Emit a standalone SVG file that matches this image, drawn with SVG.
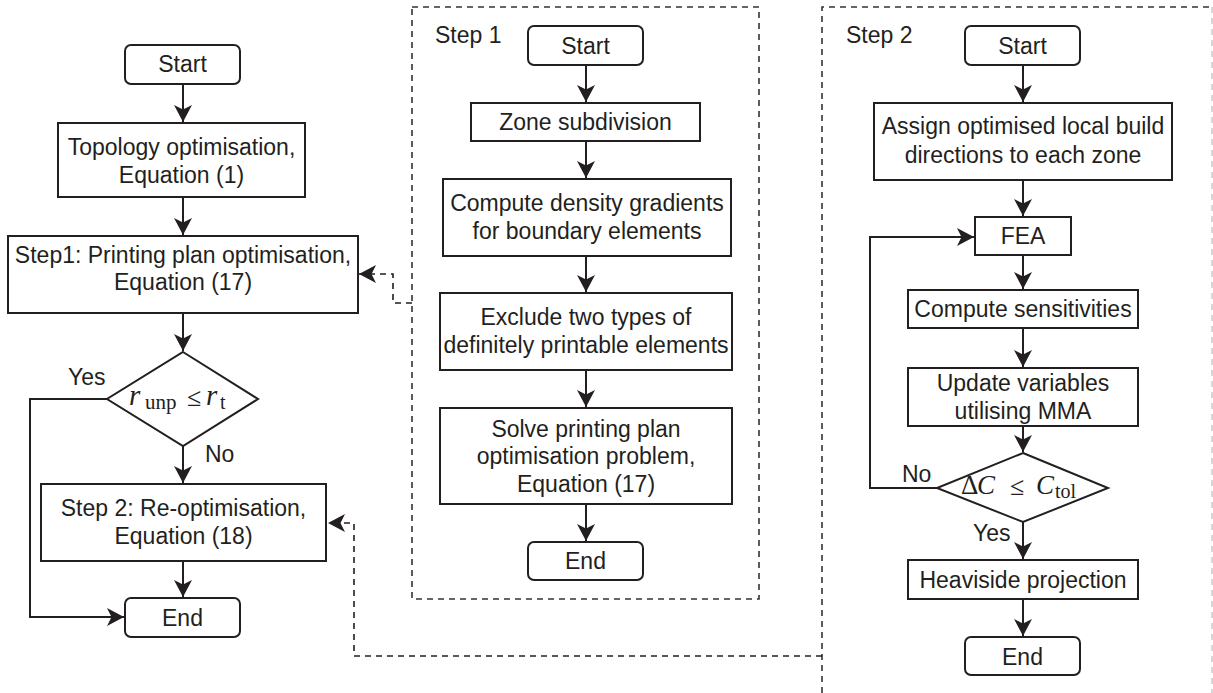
<svg xmlns="http://www.w3.org/2000/svg" width="1213" height="693" viewBox="0 0 1213 693">
<defs>
<style>
.box{fill:#fff;stroke:#231f20;stroke-width:2}
.t{font-family:"Liberation Sans",Arial,sans-serif;font-size:23px;fill:#231f20;text-anchor:middle}
.lbl{font-family:"Liberation Sans",Arial,sans-serif;font-size:23px;fill:#231f20}
.m{font-family:"Liberation Serif","Times New Roman",serif;fill:#231f20}
.ln{fill:none;stroke:#231f20;stroke-width:2}
.dash{fill:none;stroke:#231f20;stroke-width:1.6;stroke-dasharray:6 5}
.frame{fill:none;stroke:#333;stroke-width:1.6;stroke-dasharray:6 5}
</style>
<marker id="ah" markerUnits="userSpaceOnUse" markerWidth="17" markerHeight="18" viewBox="0 0 17 18" refX="17" refY="9" orient="auto">
<path d="M0,0 L17,9 L0,18 L4.5,9 Z" fill="#231f20"/>
</marker>
</defs>

<g id="frames">
<rect id="frame-step1" class="frame" x="412" y="7" width="347" height="592"/>
<path id="frame-step2" class="frame" d="M822,693 V7 H1212"/>
<path class="frame" d="M1212,7 V693" style="stroke:#ccc"/>
</g>

<g id="connectors">
<path class="ln" d="M183,84 V122" marker-end="url(#ah)"/>
<path class="ln" d="M183,197 V235" marker-end="url(#ah)"/>
<path class="ln" d="M183,313 V351" marker-end="url(#ah)"/>
<path class="ln" d="M183,446 V483" marker-end="url(#ah)"/>
<path class="ln" d="M183,561 V597" marker-end="url(#ah)"/>
<path class="ln" d="M107,399 H30 V617 H124" marker-end="url(#ah)"/>
<path class="dash" d="M412,303 H393 V274 H359" marker-end="url(#ah)"/>
<path class="dash" d="M822,656 H354 V523 H328" marker-end="url(#ah)"/>
<path class="ln" d="M586,65 V102" marker-end="url(#ah)"/>
<path class="ln" d="M586,141 V178" marker-end="url(#ah)"/>
<path class="ln" d="M586,256 V292" marker-end="url(#ah)"/>
<path class="ln" d="M586,370 V407" marker-end="url(#ah)"/>
<path class="ln" d="M586,504 V541" marker-end="url(#ah)"/>
<path class="ln" d="M1023,65 V102" marker-end="url(#ah)"/>
<path class="ln" d="M1023,180 V216" marker-end="url(#ah)"/>
<path class="ln" d="M1023,255 V289" marker-end="url(#ah)"/>
<path class="ln" d="M1023,328 V367" marker-end="url(#ah)"/>
<path class="ln" d="M1023,426 V452" marker-end="url(#ah)"/>
<path class="ln" d="M1023,522 V559" marker-end="url(#ah)"/>
<path class="ln" d="M1023,599 V636" marker-end="url(#ah)"/>
<path class="ln" d="M937,488 H870 V237 H974" marker-end="url(#ah)"/>
<text class="lbl" x="68" y="385">Yes</text>
<text class="lbl" x="205" y="462">No</text>
<text class="lbl" x="902" y="482">No</text>
<text class="lbl" x="973" y="541">Yes</text>
</g>

<g id="main-start"><rect class="box" x="125" y="45" width="115" height="39" rx="6"/><text class="t" x="182.5" y="72">Start</text></g>
<g id="main-topo"><rect class="box" x="58" y="123" width="247" height="74"/><text class="t" x="181.5" y="155">Topology optimisation,</text><text class="t" x="181.5" y="183">Equation (1)</text></g>
<g id="main-step1"><rect class="box" x="8" y="236" width="350" height="77"/><text class="t" x="183" y="263">Step1: Printing plan optimisation,</text><text class="t" x="183" y="290">Equation (17)</text></g>
<g id="main-decision"><polygon class="box" points="183,352 258,399 183,446 107,399"/>
<text class="m" y="405"><tspan x="129" font-style="italic" font-size="29">r</tspan><tspan x="145" y="409" font-size="21">unp</tspan><tspan x="187" y="406" font-size="26">≤</tspan><tspan x="206" y="405" font-style="italic" font-size="29">r</tspan><tspan x="220" y="409" font-size="20">t</tspan></text></g>
<g id="main-step2"><rect class="box" x="41" y="484" width="285" height="77"/><text class="t" x="183.5" y="516">Step 2: Re-optimisation,</text><text class="t" x="183.5" y="544">Equation (18)</text></g>
<g id="main-end"><rect class="box" x="125" y="598" width="115" height="39" rx="6"/><text class="t" x="182.5" y="626">End</text></g>

<g id="s1-label"><text class="lbl" x="435" y="43">Step 1</text></g>
<g id="s1-start"><rect class="box" x="528" y="26" width="115" height="39" rx="6"/><text class="t" x="585.5" y="54">Start</text></g>
<g id="s1-zone"><rect class="box" x="471" y="103" width="229" height="38"/><text class="t" x="585.5" y="130">Zone subdivision</text></g>
<g id="s1-grad"><rect class="box" x="443" y="179" width="288" height="77"/><text class="t" x="587" y="211">Compute density gradients</text><text class="t" x="587" y="239">for boundary elements</text></g>
<g id="s1-excl"><rect class="box" x="440" y="293" width="292" height="77"/><text class="t" x="586" y="325">Exclude two types of</text><text class="t" x="586" y="353">definitely printable elements</text></g>
<g id="s1-solve"><rect class="box" x="440" y="408" width="292" height="96"/><text class="t" x="586" y="437">Solve printing plan</text><text class="t" x="586" y="464">optimisation problem,</text><text class="t" x="586" y="492">Equation (17)</text></g>
<g id="s1-end"><rect class="box" x="528" y="542" width="115" height="38" rx="6"/><text class="t" x="585.5" y="569">End</text></g>

<g id="s2-label"><text class="lbl" x="846" y="43">Step 2</text></g>
<g id="s2-start"><rect class="box" x="965" y="26" width="115" height="39" rx="6"/><text class="t" x="1022.5" y="54">Start</text></g>
<g id="s2-assign"><rect class="box" x="874" y="103" width="298" height="77"/><text class="t" x="1023" y="134">Assign optimised local build</text><text class="t" x="1023" y="163">directions to each zone</text></g>
<g id="s2-fea"><rect class="box" x="975" y="217" width="96" height="38"/><text class="t" x="1023" y="244">FEA</text></g>
<g id="s2-sens"><rect class="box" x="908" y="290" width="230" height="38"/><text class="t" x="1023" y="317">Compute sensitivities</text></g>
<g id="s2-update"><rect class="box" x="908" y="368" width="230" height="58"/><text class="t" x="1023" y="391">Update variables</text><text class="t" x="1023" y="419">utilising MMA</text></g>
<g id="s2-decision"><polygon class="box" points="1023,453 1108,488 1023,522 937,488"/>
<text class="m" y="494"><tspan x="961" font-size="27">Δ</tspan><tspan x="977" font-style="italic" font-size="27">C</tspan><tspan x="1010" y="495" font-size="26">≤</tspan><tspan x="1036" y="494" font-style="italic" font-size="27">C</tspan><tspan x="1055" y="498" font-size="20">tol</tspan></text></g>
<g id="s2-heav"><rect class="box" x="908" y="560" width="230" height="39"/><text class="t" x="1023" y="588">Heaviside projection</text></g>
<g id="s2-end"><rect class="box" x="965" y="637" width="115" height="38" rx="6"/><text class="t" x="1022.5" y="665">End</text></g>
</svg>
